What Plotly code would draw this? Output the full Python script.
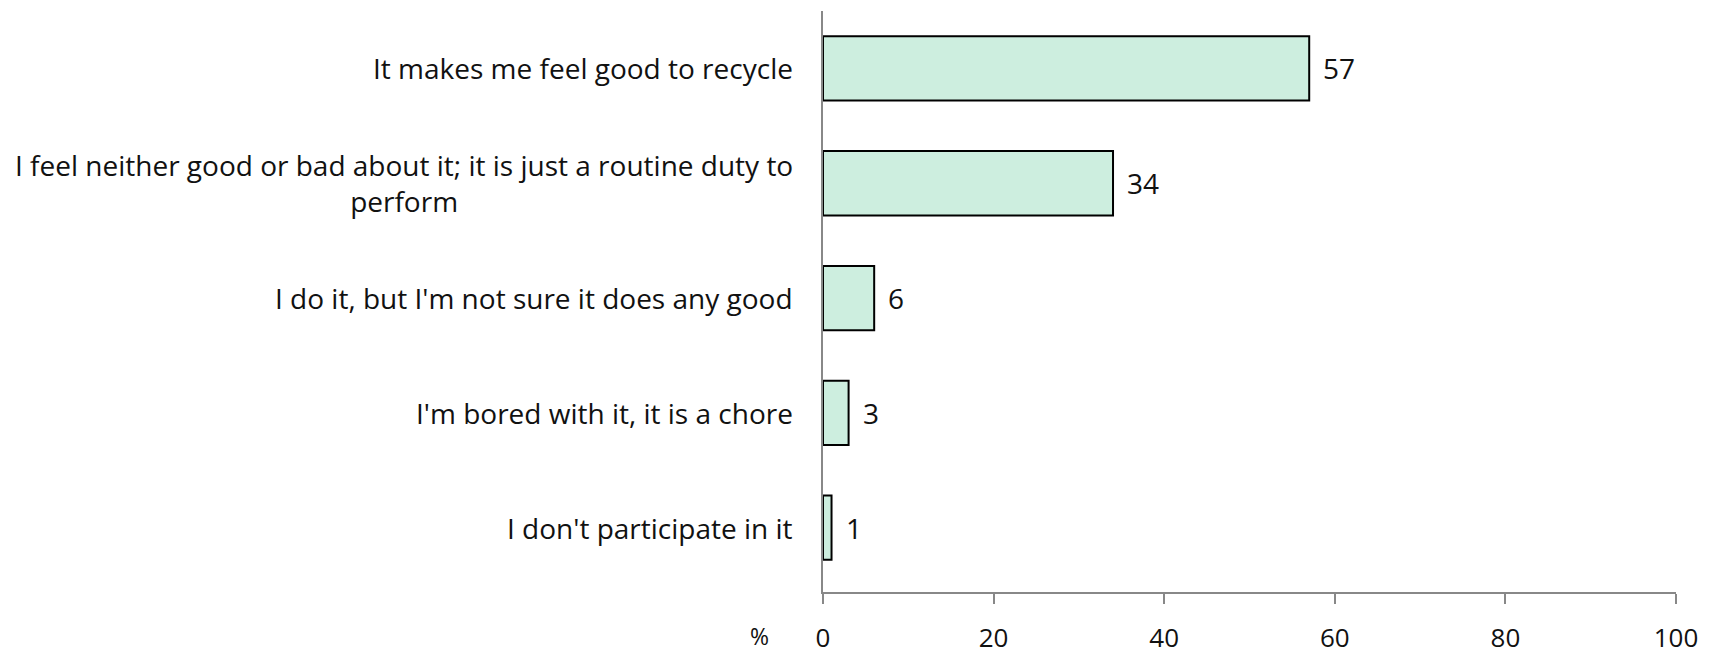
import plotly.graph_objects as go

categories = [
    "It makes me feel good to recycle",
    "I feel neither good or bad about it; it is just a routine duty to<br>perform",
    "I do it, but I'm not sure it does any good",
    "I'm bored with it, it is a chore",
    "I don't participate in it",
]
values = [57, 34, 6, 3, 1]
x_ticks = [0, 20, 40, 60, 80, 100]

FONT = "'Open Sans', Lato, sans-serif"
FS = 28
positions = list(range(len(categories)))

fig = go.Figure()
fig.add_trace(go.Bar(
    x=values, y=positions, orientation="h",
    marker=dict(color="#CDEEDF", line=dict(color="#000000", width=2)),
    width=0.56, showlegend=False, hoverinfo="x",
))

annotations = []
for p, c, v in zip(positions, categories, values):
    annotations.append(dict(
        x=0, xref="paper", y=p, yref="y", text=c, showarrow=False,
        xanchor="right", yanchor="middle", align="center", xshift=-28,
        font=dict(family=FONT, size=FS, color="#111111"),
    ))
    annotations.append(dict(
        x=v, xref="x", y=p, yref="y", text=str(v), showarrow=False,
        xanchor="left", yanchor="middle", xshift=12,
        font=dict(family=FONT, size=FS, color="#111111"),
    ))
annotations.append(dict(
    x=0, xref="paper", y=0, yref="paper", text="%", showarrow=False,
    xanchor="center", yanchor="middle", xshift=-64, yshift=-44,
    font=dict(family=FONT, size=FS - 5, color="#111111"),
))

fig.update_layout(
    width=1718, height=654,
    margin=dict(l=823, r=42, t=11, b=62, autoexpand=False),
    paper_bgcolor="white", plot_bgcolor="white",
    annotations=annotations,
    xaxis=dict(
        range=[0, 100], tickvals=x_ticks, ticktext=[str(t) for t in x_ticks],
        showgrid=False, zeroline=False, showline=True, linecolor="#888888", linewidth=2,
        ticks="outside", ticklen=10, tickcolor="#888888", tickwidth=2,
        ticklabelstandoff=12, automargin=False,
        tickfont=dict(family=FONT, size=FS - 2, color="#111111"),
    ),
    yaxis=dict(
        range=[4.56, -0.5], showticklabels=False, showgrid=False, zeroline=False,
        showline=True, linecolor="#888888", linewidth=2, ticks="", automargin=False,
    ),
)

fig.write_html("out.html", config={"displayModeBar": False},
               post_script="document.body.style.margin='0';document.body.style.overflow='hidden';")
